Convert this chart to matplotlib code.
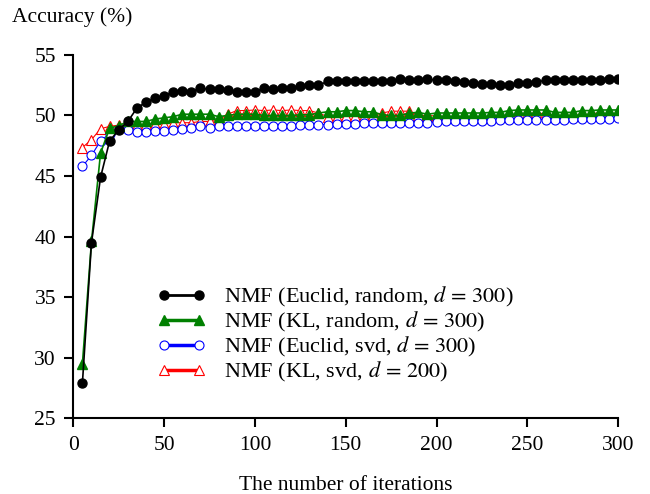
import numpy as np
import matplotlib
matplotlib.use("Agg")
import matplotlib.pyplot as plt

plt.rcParams['font.family'] = ['Liberation Serif', 'DejaVu Serif']
plt.rcParams['mathtext.fontset'] = 'stix'

iters = np.arange(5, 301, 5)

# NMF (Euclid, random, d=300)
euc_rand = [27.9, 39.5, 44.9, 47.9, 48.8, 49.5, 50.6, 51.1, 51.4, 51.6,
            51.95, 52.05, 51.95, 52.25, 52.15, 52.15, 52.1, 51.95, 51.9, 51.95,
            52.25, 52.15, 52.25, 52.3, 52.4, 52.5, 52.5, 52.8, 52.8, 52.8,
            52.8, 52.85, 52.85, 52.85, 52.85, 53.0, 52.95, 52.95, 53.0, 52.9,
            52.9, 52.8, 52.75, 52.7, 52.6, 52.6, 52.55, 52.55, 52.65, 52.7,
            52.75, 52.9, 52.9, 52.9, 52.9, 52.9, 52.95, 52.95, 53.0, 53.0]

# NMF (KL, random, d=300)
kl_rand = [29.5, 39.6, 46.9, 48.95, 49.15, 49.5, 49.5, 49.5, 49.7, 49.8,
           49.9, 50.1, 50.1, 50.1, 50.1, 49.9, 50.0, 50.1, 50.1, 50.1,
           50.0, 50.0, 50.0, 50.0, 50.05, 50.05, 50.2, 50.3, 50.3, 50.4,
           50.4, 50.3, 50.3, 50.05, 50.0, 50.0, 50.2, 50.25, 50.1, 50.2,
           50.2, 50.2, 50.2, 50.2, 50.2, 50.25, 50.25, 50.4, 50.45, 50.45,
           50.45, 50.45, 50.25, 50.25, 50.25, 50.4, 50.4, 50.45, 50.45, 50.45]

# NMF (Euclid, svd, d=300)
euc_svd = [45.8, 46.7, 47.9, 48.5, 48.9, 48.8, 48.65, 48.65, 48.7, 48.75,
           48.8, 48.9, 49.0, 49.1, 49.0, 49.1, 49.1, 49.1, 49.1, 49.1,
           49.1, 49.1, 49.15, 49.15, 49.2, 49.2, 49.25, 49.25, 49.3, 49.3,
           49.3, 49.35, 49.35, 49.35, 49.35, 49.4, 49.4, 49.4, 49.4, 49.45,
           49.5, 49.5, 49.5, 49.55, 49.55, 49.55, 49.6, 49.6, 49.6, 49.6,
           49.65, 49.65, 49.65, 49.65, 49.7, 49.7, 49.7, 49.7, 49.7, 49.75]

# NMF (KL, svd, d=200)
kl_svd = [47.35, 48.0, 48.9, 49.1, 49.2, 49.2, 49.2, 49.3, 49.3, 49.3,
          49.4, 49.4, 49.4, 49.5, 49.5, 49.6, 50.1, 50.4, 50.4, 50.45,
          50.4, 50.45, 50.4, 50.45, 50.4, 50.4, 50.2, 49.9, 49.9, 49.95,
          49.95, 49.95, 50.0, 50.2, 50.35, 50.35, 50.35, 50.0, 50.0, 49.95,
          49.9, 49.9, 49.8, 49.8, 49.85, 49.9, 49.9, 49.95, 50.0, 50.1,
          50.25, 50.1, 50.0, 50.0, 50.0, 50.05, 50.1, 50.25, 50.05, 50.05]

fig = plt.figure(figsize=(6.5, 4.94), dpi=100)
ax = fig.add_axes([0.1128, 0.153, 0.8382, 0.736])

l4, = ax.plot(iters, kl_svd, color='red', lw=0.8, marker='^', ms=6.5,
              mfc='white', mec='red', mew=0.8, zorder=2,
              label=r'NMF (KL, svd, $d\,=\,200$)')
l3, = ax.plot(iters, euc_svd, color='blue', lw=0.8, marker='o', ms=6.5,
              mfc='white', mec='blue', mew=0.8, zorder=3,
              label=r'NMF (Euclid, svd, $d\,=\,300$)')
l2, = ax.plot(iters, kl_rand, color='green', lw=1.2, marker='^', ms=6.5,
              mfc='green', mec='green', zorder=4,
              label=r'NMF (KL, random, $d\,=\,300$)')
l1, = ax.plot(iters, euc_rand, color='black', lw=1.2, marker='o', ms=6.5,
              mfc='black', mec='black', zorder=5,
              label=r'NMF (Euclid, random, $d\,=\,300$)')

ax.set_xlim(0, 300)
ax.set_ylim(25, 55)
ax.set_xticks(np.arange(0, 301, 50))
ax.set_yticks(np.arange(25, 56, 5))
for s in ['top', 'right']:
    ax.spines[s].set_visible(False)
for s in ['left', 'bottom']:
    ax.spines[s].set_linewidth(1.5)
ax.tick_params(direction='out', length=6.5, width=1.5, labelsize=15.5, pad=6)

fig.text(12 / 650, 1 - 17 / 494, 'Accuracy (%)', fontsize=15.5, va='center', ha='left')
ax.set_xlabel('The number of iterations', fontsize=15.5, labelpad=15)

leg = ax.legend(handles=[l1, l2, l3, l4], loc='upper left', numpoints=2,
                bbox_to_anchor=(157 / 650, 1 - 285 / 494),
                bbox_transform=fig.transFigure, frameon=False, fontsize=16,
                handlelength=2.2, handletextpad=0.8, labelspacing=0.05,
                borderpad=0, borderaxespad=0)
for ln, w in zip(leg.get_lines(), [2.0, 2.5, 2.5, 2.5]):
    ln.set_linewidth(w)

fig.savefig('out.png', dpi=100)
